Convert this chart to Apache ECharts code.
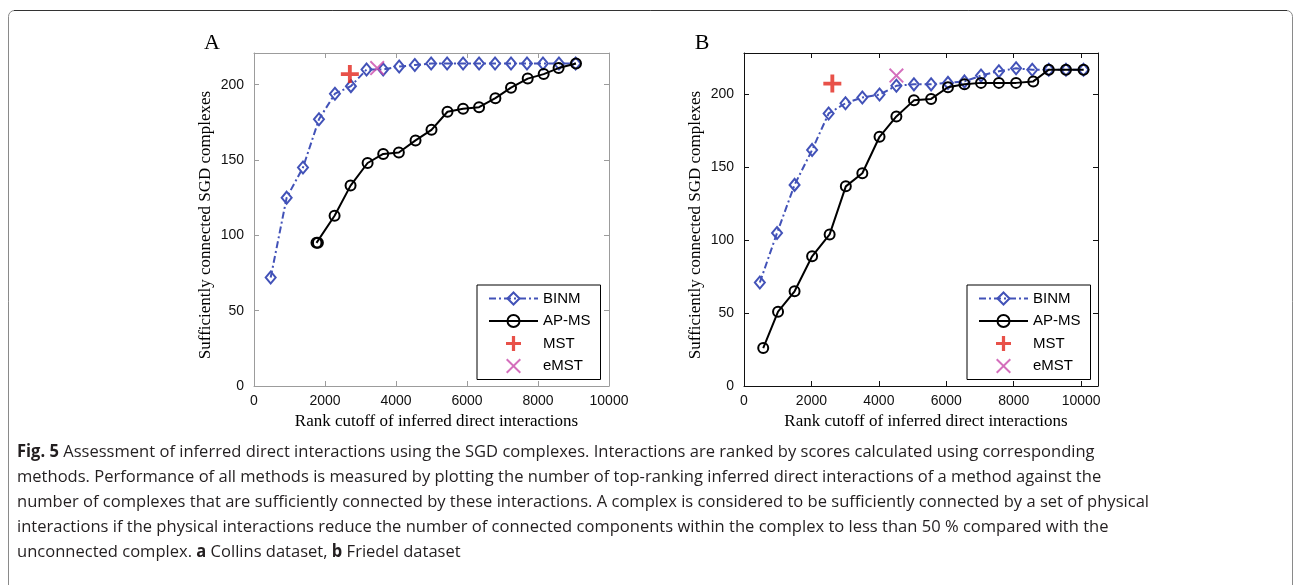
<!DOCTYPE html>
<html>
<head>
<meta charset="utf-8">
<script src="https://cdn.jsdelivr.net/npm/echarts@6/dist/echarts.min.js"></script>
<style>
  html, body { margin: 0; padding: 0; background: #fff; }
  #chart { width: 1294px; height: 585px; }
</style>
</head>
<body>
<div id="chart"></div>
<script>
// ---- Panel A: Collins dataset ----
const binmA_x = [470, 920, 1380, 1830, 2280, 2730, 3170, 3640, 4090, 4530, 4990, 5440, 5890, 6340, 6790, 7240, 7690, 8140, 8590, 9060];
const binmA_y = [72, 125, 145, 177, 194, 199, 210, 210, 212, 213, 214, 214, 214, 214, 214, 214, 214, 214, 214, 214];
const apmsA_x = [1760, 1800, 2270, 2720, 3200, 3640, 4080, 4550, 5000, 5450, 5890, 6340, 6800, 7240, 7710, 8160, 8580, 9070];
const apmsA_y = [95, 95, 113, 133, 148, 154, 155, 163, 170, 182, 184, 185, 191, 198, 204, 207, 211, 214];
const mstA = [2700, 207];
const emstA = [3470, 211];

// ---- Panel B: Friedel dataset ----
const binmB_x = [470, 980, 1500, 2020, 2510, 3010, 3510, 4020, 4520, 5040, 5550, 6050, 6540, 7030, 7560, 8070, 8550, 9040, 9550, 10070];
const binmB_y = [71, 105, 138, 162, 187, 194, 198, 200, 206, 207, 207, 208, 209, 213, 216, 218, 217, 217, 217, 217];
const apmsB_x = [570, 1010, 1500, 2020, 2540, 3020, 3510, 4020, 4520, 5040, 5550, 6050, 6540, 7030, 7560, 8070, 8580, 9040, 9550, 10070];
const apmsB_y = [26, 51, 65, 89, 104, 137, 146, 171, 185, 196, 197, 205, 207, 208, 208, 208, 209, 217, 217, 217];
const mstB = [2620, 207.5];
const emstB = [4520, 213];

// ---- Axis ticks and labels ----
const xTicks = [0, 2000, 4000, 6000, 8000, 10000];
const yTicks = [0, 50, 100, 150, 200];
const seriesNames = ['BINM', 'AP-MS', 'MST', 'eMST'];
const panelLabels = ['A', 'B'];
const xTitle = 'Rank cutoff of inferred direct interactions';
const yTitle = 'Sufficiently connected SGD complexes';
const captionLines = [
  '{b|Fig. 5} Assessment of inferred direct interactions using the SGD complexes. Interactions are ranked by scores calculated using corresponding',
  'methods. Performance of all methods is measured by plotting the number of top-ranking inferred direct interactions of a method against the',
  'number of complexes that are sufficiently connected by these interactions. A complex is considered to be sufficiently connected by a set of physical',
  'interactions if the physical interactions reduce the number of connected components within the complex to less than 50 % compared with the',
  'unconnected complex. {b|a} Collins dataset, {b|b} Friedel dataset'
];

const BLUE = '#4252b8';
const RED = '#e2261c';
const MAGENTA = '#c94aab';
// plus and diagonal cross marker outlines (14 x 14 box)
const PLUS = 'path://M5.5,0L8.5,0L8.5,5.5L14,5.5L14,8.5L8.5,8.5L8.5,14L5.5,14L5.5,8.5L0,8.5L0,5.5L5.5,5.5Z';
const CROSS = 'path://M0,1.3L1.3,0L7,5.7L12.7,0L14,1.3L8.3,7L14,12.7L12.7,14L7,8.3L1.3,14L0,12.7L5.7,7Z';

const zip = (xs, ys) => xs.map((x, i) => [x, ys[i]]);

const panels = [
  { left: 254, top: 53, width: 355, height: 333, xMax: 10000, yMax: 221, frame: '#9c9c9c',
    binm: zip(binmA_x, binmA_y), apms: zip(apmsA_x, apmsA_y), mst: mstA, emst: emstA },
  { left: 744, top: 53, width: 354, height: 333, xMax: 10500, yMax: 228.5, frame: '#111',
    binm: zip(binmB_x, binmB_y), apms: zip(apmsB_x, apmsB_y), mst: mstB, emst: emstB }
];

const tickFont = { fontFamily: 'Liberation Sans', fontSize: 14, color: '#111' };

function makeAxis(gridIndex, max, ticks, frame, position, showLabels) {
  return {
    type: 'value', gridIndex, position, min: 0, max,
    axisLine: { show: true, onZero: false, lineStyle: { color: frame, width: 1 } },
    axisTick: { show: true, inside: true, length: 5, customValues: ticks, lineStyle: { color: frame } },
    axisLabel: Object.assign({ show: showLabels, customValues: ticks, margin: 8,
                               formatter: (v) => String(v) }, tickFont),
    splitLine: { show: false }
  };
}

const grid = [], xAxis = [], yAxis = [], series = [], legend = [], graphic = [];

panels.forEach((p, i) => {
  grid.push({ left: p.left, top: p.top, width: p.width, height: p.height, containLabel: false });
  xAxis.push(makeAxis(i, p.xMax, xTicks, p.frame, 'bottom', true));
  xAxis.push(makeAxis(i, p.xMax, xTicks, p.frame, 'top', false));
  const yb = makeAxis(i, p.yMax, yTicks, p.frame, 'left', true);
  yb.axisLabel.margin = 10;
  yAxis.push(yb);
  yAxis.push(makeAxis(i, p.yMax, yTicks, p.frame, 'right', false));
  const xi = i * 2, yi = i * 2;

  series.push({
    name: 'BINM', type: 'line', xAxisIndex: xi, yAxisIndex: yi, data: p.binm,
    symbol: 'diamond', symbolSize: [10, 12],
    lineStyle: { color: BLUE, width: 2, type: [7, 3, 2, 3] },
    itemStyle: { color: 'rgba(255,255,255,0)', borderColor: BLUE, borderWidth: 2 },
    z: 3, animation: false
  });
  series.push({
    name: 'AP-MS', type: 'line', xAxisIndex: xi, yAxisIndex: yi, data: p.apms,
    symbol: 'circle', symbolSize: 10,
    lineStyle: { color: '#000', width: 2 },
    itemStyle: { color: 'rgba(255,255,255,0)', borderColor: '#000', borderWidth: 2 },
    z: 4, animation: false
  });
  series.push({
    name: 'MST', type: 'scatter', xAxisIndex: xi, yAxisIndex: yi, data: [p.mst],
    symbol: PLUS, symbolSize: 18, itemStyle: { color: RED }, z: 5, animation: false
  });
  series.push({
    name: 'eMST', type: 'scatter', xAxisIndex: xi, yAxisIndex: yi, data: [p.emst],
    symbol: CROSS, symbolSize: 15, itemStyle: { color: MAGENTA }, z: 5, animation: false
  });

  legend.push({
    data: seriesNames, orient: 'vertical', left: p.left + 223, top: 285,
    itemWidth: 49, itemHeight: 15, itemGap: 7.5,
    padding: [6, 10, 6, 11],
    borderColor: '#000', borderWidth: 1, backgroundColor: '#fff',
    selectedMode: false,
    textStyle: { fontFamily: 'Liberation Sans', fontSize: 15, color: '#000' }
  });

  // panel letter and axis titles
  graphic.push({
    type: 'text', x: p.left - 42, y: 43,
    style: { text: panelLabels[i], fontFamily: 'Liberation Serif', fontSize: 22, fill: '#000',
             align: 'center', verticalAlign: 'middle' }
  });
  graphic.push({
    type: 'text', x: p.left + p.width / 2 + 5, y: 422,
    style: { text: xTitle, fontFamily: 'Liberation Serif', fontSize: 17, fill: '#000',
             align: 'center', verticalAlign: 'middle' }
  });
  graphic.push({
    type: 'text', x: p.left - 48, y: 225, rotation: Math.PI / 2,
    style: { text: yTitle, fontFamily: 'Liberation Serif', fontSize: 17, fill: '#000',
             align: 'center', verticalAlign: 'middle' }
  });
});

// figure frame
graphic.push({
  type: 'rect', shape: { x: 8.5, y: 10.5, width: 1284, height: 620, r: 6 },
  style: { fill: 'none', stroke: '#8a8a8a', lineWidth: 1 }, z: 0
});
graphic.push({
  type: 'line', shape: { x1: 14, y1: 10.5, x2: 1287, y2: 10.5 },
  style: { stroke: '#333', lineWidth: 1 }, z: 0
});

// caption, horizontally condensed to the figure's caption measure
const captionFont = "17px 'Open Sans'";
const measureCanvas = document.createElement('canvas').getContext('2d');
measureCanvas.font = captionFont;
const plain = captionLines[2].replace(/\{b\|([^}]*)\}/g, '$1');
const captionScale = 1132 / measureCanvas.measureText(plain).width;
captionLines.forEach((line, k) => {
  graphic.push({
    type: 'text', x: 17, y: 452 + 25 * k, scaleX: captionScale,
    style: {
      text: line, fontFamily: 'Open Sans', fontSize: 17, fill: '#231f20',
      align: 'left', verticalAlign: 'middle',
      rich: { b: { fontFamily: 'Open Sans', fontSize: 17, fontWeight: 'bold', fill: '#231f20' } }
    }
  });
});

const chart = echarts.init(document.getElementById('chart'), null, { renderer: 'canvas' });
chart.setOption({
  backgroundColor: '#fff',
  animation: false,
  grid, xAxis, yAxis, series, legend, graphic
});
</script>
</body>
</html>
